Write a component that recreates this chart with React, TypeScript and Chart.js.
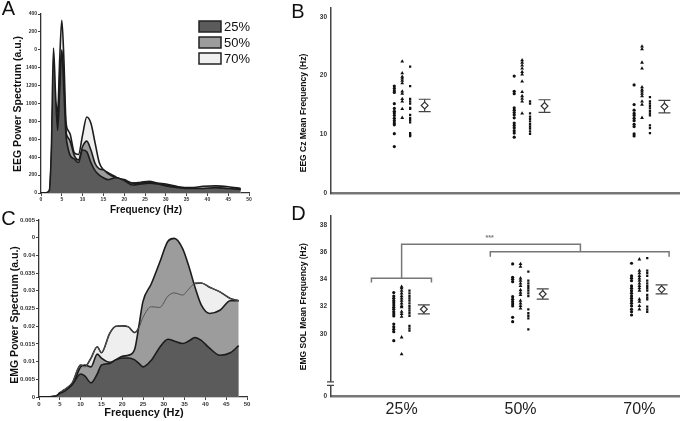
import { useEffect, useRef } from "react";
import { Chart, registerables } from "chart.js";
Chart.register(...registerables);

const FONT = "'Liberation Sans', Arial, sans-serif";

// ---------- Panel A : EEG power spectrum ----------
const FREQ_A = [0, 1, 2, 2.5, 3, 3.5, 4, 4.5, 5, 5.5, 6, 6.5, 7, 8, 9, 10, 11, 12, 13, 14, 15, 16, 18, 20, 22, 24, 26, 28, 30, 33, 36, 39, 42, 45, 48];
const EEG_25 = [0, 0, 30, 500, 1620, 1100, 700, 1150, 1600, 1150, 650, 500, 420, 380, 340, 480, 460, 340, 250, 200, 170, 150, 170, 140, 90, 100, 110, 100, 80, 60, 50, 50, 60, 50, 40];
const EEG_50 = [0, 0, 20, 400, 1150, 1000, 800, 1300, 1580, 1250, 700, 620, 580, 420, 370, 520, 580, 480, 330, 270, 260, 220, 170, 150, 110, 110, 120, 100, 90, 60, 50, 50, 50, 45, 40];
const EEG_70 = [0, 0, 10, 250, 900, 1000, 900, 1500, 1930, 1500, 800, 700, 660, 450, 430, 650, 850, 780, 560, 340, 260, 230, 180, 130, 110, 120, 130, 110, 100, 70, 60, 75, 80, 70, 50];
const EEG_TICK_LABELS = ["0", "200", "400", "600", "800", "1000", "1200", "1400", "0", "200", "400"];

// ---------- Panel C : EMG power spectrum ----------
const FREQ_C = [0, 4, 5, 6, 8, 10, 11, 12.5, 14, 15, 17, 18.5, 20, 21.5, 23, 24, 25, 27, 29, 31, 32.5, 34.5, 36, 37.5, 39, 41, 43.5, 46, 48];
const EMG_25 = [0, 0.0003, 0.001, 0.0015, 0.0035, 0.0065, 0.006, 0.004, 0.0065, 0.009, 0.0095, 0.0105, 0.011, 0.011, 0.0105, 0.0095, 0.0085, 0.0104, 0.014, 0.0163, 0.0158, 0.0151, 0.0158, 0.0168, 0.016, 0.0138, 0.0118, 0.0125, 0.0145];
const EMG_50 = [0, 0, 0.0002, 0.0008, 0.003, 0.0085, 0.009, 0.0085, 0.0121, 0.011, 0.0098, 0.0105, 0.0115, 0.0118, 0.0135, 0.02, 0.027, 0.032, 0.038, 0.044, 0.0448, 0.042, 0.037, 0.031, 0.026, 0.0236, 0.0245, 0.0272, 0.0272];
const EMG_70 = [0, 0.0002, 0.0012, 0.002, 0.004, 0.009, 0.0085, 0.011, 0.0142, 0.0125, 0.018, 0.02, 0.0201, 0.0198, 0.0182, 0.0195, 0.0225, 0.0255, 0.0253, 0.0285, 0.0294, 0.0288, 0.0305, 0.0321, 0.0322, 0.031, 0.0297, 0.0278, 0.0272];
const EMG_TICK_LABELS = ["0", "0.005", "0.01", "0.015", "0.02", "0.025", "0.03", "0.035", "0.04", "0", "0.005"];

const SERIES = ["25%", "50%", "70%"];
const FILLS = ["#5b5b5b", "#9c9c9c", "#efefef"];

// ---------- Panel B : EEG Cz mean frequency ----------
const B_CIRC_25 = [18.2, 17.8, 17.4, 17.1, 15.2, 14.4, 13.9, 13.6, 13.2, 12.7, 12.3, 11.9, 11.6, 10.1, 7.9];
const B_TRI_25 = [22.4, 20.4, 19.8, 19.5, 19.1, 18.7, 17.3, 16.9, 16.0, 15.6, 14.3, 12.8];
const B_SQR_25 = [21.5, 18.2, 16.0, 15.6, 15.2, 14.5, 14.3, 13.3, 12.8, 12.4, 12.0, 10.2, 9.9, 9.7];
const B_CIRC_50 = [19.9, 17.3, 16.9, 14.5, 14.1, 13.7, 13.3, 12.8, 11.9, 11.5, 11.1, 10.6, 10.2, 9.5];
const B_TRI_50 = [22.6, 22.2, 21.7, 21.2, 20.6, 20.2, 19.0, 17.2, 16.5, 16.05, 15.6, 13.55];
const B_SQR_50 = [15.6, 15.2, 13.55, 13.0, 12.6, 12.2, 11.7, 11.3, 10.95, 10.5, 10.05];
const B_CIRC_70 = [18.4, 15.05, 14.1, 13.55, 13.2, 12.7, 12.3, 11.7, 11.3, 10.05, 9.7];
const B_TRI_70 = [24.95, 24.5, 22.2, 21.2, 18.0, 17.6, 17.3, 16.9, 16.5, 15.6, 15.05, 12.8];
const B_SQR_70 = [16.3, 15.6, 15.2, 14.8, 14.4, 13.95, 13.55, 13.2, 11.5, 11.05, 10.2];
const B_MEAN = [14.9, 14.8, 14.7];
const B_ERR = [1.05, 1.07, 1.05];
const B_TICKS = [0, 10, 20, 30];

// ---------- Panel D : EMG SOL mean frequency ----------
const D_CIRC_25 = [33.03, 32.78, 32.61, 32.44, 32.29, 32.12, 31.96, 31.81, 31.63, 31.47, 31.32, 30.73, 30.53, 30.34, 30.17, 29.51];
const D_TRI_25 = [33.47, 33.35, 33.17, 32.98, 32.78, 32.61, 32.44, 32.25, 32.05, 31.96, 31.63, 31.47, 31.27, 29.76, 28.53];
const D_SQR_25 = [33.17, 32.98, 32.78, 32.61, 32.44, 32.25, 32.05, 31.88, 31.71, 31.52, 31.32, 30.59, 30.42, 30.24];
const D_CIRC_50 = [35.13, 34.15, 34.01, 33.83, 32.73, 32.54, 32.37, 32.2, 32.05, 31.22, 30.9];
const D_TRI_50 = [35.13, 34.93, 34.08, 33.9, 33.71, 33.52, 33.22, 33.03, 32.86, 32.44, 32.25, 32.05, 31.88];
const D_SQR_50 = [34.56, 33.9, 33.71, 33.52, 33.35, 33.17, 32.98, 32.78, 31.81, 31.52, 31.32, 31.15, 30.34];
const D_CIRC_70 = [35.18, 34.25, 34.08, 33.9, 33.52, 33.35, 33.17, 32.98, 32.78, 32.61, 32.44, 32.25, 32.05, 31.81, 31.63, 31.39];
const D_TRI_70 = [35.47, 34.64, 34.45, 34.25, 34.08, 33.9, 33.71, 33.52, 33.35, 33.17, 32.54, 32.37, 32.05, 31.81];
const D_SQR_70 = [35.55, 34.64, 34.45, 34.25, 33.9, 33.71, 33.52, 33.35, 33.17, 32.86, 32.69, 32.54, 32.0, 31.81, 31.63];
const D_MEAN = [31.81, 32.93, 33.27];
const D_ERR = [0.33, 0.37, 0.33];
const D_MIN = 25.41;
const D_MAX = 38.64;
const D_TICKS = [D_MIN, 30, 32, 34, 36, 38];
const D_BREAK = [26.24, 26.5];
// significance brackets (x in category units, y in Hz)
const BRACKET_25 = [[0.746, 33.78], [0.746, 34.08], [1.251, 34.08], [1.251, 33.78]];
const BRACKET_TOP = [[1.0, 34.08], [1.0, 36.57], [2.504, 36.57], [2.504, 36.03]];
const BRACKET_50_70 = [[1.746, 35.66], [1.746, 36.03], [3.25, 36.03], [3.25, 35.66]];
const STARS = { text: "***", x: 1.74, y: 37.03 };

const CATEGORIES = ["25%", "50%", "70%"];
const COL_OFFSETS = [-0.066, 0, 0.066];
const MEAN_OFFSET = 0.187;

type TextItem = { text: string; x: number; y: number; size: number; bold?: boolean; rotate?: boolean; color?: string };

const textPlugin = (items: TextItem[]) => ({
  id: "panelText",
  afterDraw(chart: any) {
    const ctx = chart.ctx;
    items.forEach((it) => {
      ctx.save();
      ctx.font = `${it.bold ? "bold " : ""}${it.size}px ${FONT}`;
      ctx.fillStyle = it.color ?? "#111";
      ctx.textAlign = "center";
      ctx.textBaseline = "middle";
      ctx.translate(it.x, it.y);
      if (it.rotate) ctx.rotate(-Math.PI / 2);
      ctx.fillText(it.text, 0, 0);
      ctx.restore();
    });
  },
});

const legendPlugin = {
  id: "boxLegend",
  afterDraw(chart: any) {
    const ctx = chart.ctx;
    const tops = [21, 37, 53];
    SERIES.forEach((s, i) => {
      ctx.save();
      ctx.fillStyle = FILLS[i];
      ctx.strokeStyle = "#222";
      ctx.lineWidth = 1.5;
      ctx.fillRect(199, tops[i], 22, 11);
      ctx.strokeRect(199, tops[i], 22, 11);
      ctx.fillStyle = "#111";
      ctx.font = `13px ${FONT}`;
      ctx.textAlign = "left";
      ctx.textBaseline = "middle";
      ctx.fillText(s, 224, tops[i] + 6);
      ctx.restore();
    });
  },
};

const meanBarPlugin = (means: number[], errs: number[]) => ({
  id: "meanBars",
  beforeDatasetsDraw(chart: any) {
    const { ctx, scales } = chart;
    const x = scales.x, y = scales.y;
    ctx.save();
    ctx.strokeStyle = "#444";
    ctx.lineWidth = 1.2;
    means.forEach((m, i) => {
      const px = x.getPixelForValue(i + 1 + MEAN_OFFSET);
      const top = y.getPixelForValue(m + errs[i]);
      const bot = y.getPixelForValue(m - errs[i]);
      ctx.beginPath();
      ctx.moveTo(px, top); ctx.lineTo(px, bot);
      ctx.moveTo(px - 6, top); ctx.lineTo(px + 6, top);
      ctx.moveTo(px - 6, bot); ctx.lineTo(px + 6, bot);
      ctx.stroke();
    });
    ctx.restore();
  },
});

const breakPlugin = {
  id: "axisBreak",
  afterDraw(chart: any) {
    const { ctx, scales, chartArea } = chart;
    const y1 = scales.y.getPixelForValue(D_BREAK[1]);
    const y2 = scales.y.getPixelForValue(D_BREAK[0]);
    const x = chartArea.left;
    ctx.save();
    ctx.fillStyle = "#fff";
    ctx.fillRect(x - 2, y1, 4, y2 - y1);
    ctx.strokeStyle = "#444";
    ctx.lineWidth = 1.2;
    ctx.beginPath();
    ctx.moveTo(x - 4, y1); ctx.lineTo(x + 3, y1);
    ctx.moveTo(x - 4, y2); ctx.lineTo(x + 3, y2);
    ctx.stroke();
    ctx.restore();
  },
};

const starsPlugin = {
  id: "stars",
  afterDatasetsDraw(chart: any) {
    const { ctx, scales } = chart;
    ctx.save();
    ctx.font = `bold 7px ${FONT}`;
    ctx.fillStyle = "#777";
    ctx.textAlign = "center";
    ctx.textBaseline = "middle";
    ctx.fillText(STARS.text, scales.x.getPixelForValue(STARS.x), scales.y.getPixelForValue(STARS.y));
    ctx.restore();
  },
};

function spectrumDatasets(freq: number[], series: number[][], thinLine: boolean) {
  const ds: any[] = series.map((vals, i) => ({
    label: SERIES[i],
    data: freq.map((f, j) => ({ x: f, y: vals[j] })),
    backgroundColor: FILLS[i],
    borderColor: "#1c1c1c",
    borderWidth: 1.6,
    fill: "origin",
    pointRadius: 0,
    cubicInterpolationMode: "monotone",
    order: i,
  }));
  if (thinLine) {
    ds.push({
      label: "70% line",
      data: freq.map((f, j) => ({ x: f, y: series[2][j] })),
      borderColor: "#555",
      borderWidth: 1,
      fill: false,
      pointRadius: 0,
      cubicInterpolationMode: "monotone",
      order: 0.5,
    });
  }
  return ds;
}

function axisStyle(size: number) {
  return {
    font: { size, weight: "bold" as const, family: FONT },
    color: "#333",
    autoSkip: false,
    maxRotation: 0,
  };
}

function spectrumConfig(opts: {
  freq: number[]; series: number[][]; thinLine: boolean; yMax: number; step: number; labels: string[];
  tickSize: number; padTop: number; padRight: number; yWidth: number; xHeight: number; texts: TextItem[]; legend: boolean;
}): any {
  const plugins: any[] = [textPlugin(opts.texts)];
  if (opts.legend) plugins.push(legendPlugin);
  return {
    type: "line",
    data: { datasets: spectrumDatasets(opts.freq, opts.series, opts.thinLine) },
    options: {
      animation: false,
      responsive: false,
      layout: { padding: { left: 0, top: opts.padTop, right: opts.padRight, bottom: 0 } },
      plugins: { legend: { display: false }, tooltip: { enabled: false } },
      scales: {
        x: {
          type: "linear", min: 0, max: 50,
          afterFit: (s: any) => { s.height = opts.xHeight; },
          ticks: { ...axisStyle(opts.tickSize), stepSize: 5, padding: 1 },
          grid: { drawOnChartArea: false, drawTicks: true, tickLength: 3, color: "#444" },
          border: { color: "#333", width: 1.3 },
        },
        y: {
          type: "linear", min: 0, max: opts.yMax,
          afterFit: (s: any) => { s.width = opts.yWidth; },
          ticks: { ...axisStyle(opts.tickSize), stepSize: opts.step, padding: 1, callback: (_v: any, i: number) => opts.labels[i] },
          grid: { drawOnChartArea: false, drawTicks: true, tickLength: 3, color: "#444" },
          border: { color: "#333", width: 1.3 },
        },
      },
    },
    plugins,
  };
}

function markers(groups: number[][][], means: number[]) {
  const styles = ["circle", "triangle", "rect"];
  const radii = [1.6, 2.2, 1.6];
  const ds: any[] = [];
  groups.forEach((cols, g) => {
    cols.forEach((vals, c) => {
      ds.push({
        label: `${CATEGORIES[g]}-${c}`,
        data: vals.map((v) => ({ x: g + 1 + COL_OFFSETS[c], y: v })),
        pointStyle: styles[c],
        pointRadius: radii[c],
        backgroundColor: "#111",
        borderColor: "#111",
        borderWidth: 0,
        order: 2,
      });
    });
  });
  ds.push({
    label: "mean",
    data: means.map((m, i) => ({ x: i + 1 + MEAN_OFFSET, y: m })),
    pointStyle: "rectRot",
    pointRadius: 3.4,
    backgroundColor: "#fff",
    borderColor: "#333",
    borderWidth: 1.2,
    order: 1,
  });
  return ds;
}

function bracketDataset(pts: number[][]) {
  return {
    label: "bracket",
    data: pts.map(([x, y]) => ({ x, y })),
    showLine: true,
    pointRadius: 0,
    borderColor: "#777",
    borderWidth: 1.5,
    fill: false,
    tension: 0,
    order: 3,
  };
}

function configB(): any {
  return {
    type: "scatter",
    data: {
      datasets: markers(
        [
          [B_CIRC_25, B_TRI_25, B_SQR_25],
          [B_CIRC_50, B_TRI_50, B_SQR_50],
          [B_CIRC_70, B_TRI_70, B_SQR_70],
        ],
        B_MEAN
      ),
    },
    options: {
      animation: false,
      responsive: false,
      layout: { padding: { left: 0, top: 4, right: 0, bottom: 0 } },
      plugins: { legend: { display: false }, tooltip: { enabled: false } },
      scales: {
        x: {
          type: "linear", min: 0.406, max: 3.315,
          afterFit: (s: any) => { s.height = 12; },
          ticks: { display: false },
          grid: { drawOnChartArea: false, drawTicks: false },
          border: { color: "#777", width: 2.5 },
        },
        y: {
          type: "linear", min: 0, max: 31.5,
          afterFit: (s: any) => { s.width = 61; },
          afterBuildTicks: (s: any) => { s.ticks = B_TICKS.map((v) => ({ value: v })); },
          ticks: { ...axisStyle(6.5), padding: 4 },
          grid: { drawOnChartArea: false, drawTicks: false },
          border: { color: "#444", width: 1.5 },
        },
      },
    },
    plugins: [
      meanBarPlugin(B_MEAN, B_ERR),
      textPlugin([
        { text: "B", x: 28, y: 12, size: 20 },
        { text: "EEG Cz Mean Frequency (Hz)", x: 34, y: 113, size: 8.5, bold: true, rotate: true },
      ]),
    ],
  };
}

function configD(): any {
  const ds = markers(
    [
      [D_CIRC_25, D_TRI_25, D_SQR_25],
      [D_CIRC_50, D_TRI_50, D_SQR_50],
      [D_CIRC_70, D_TRI_70, D_SQR_70],
    ],
    D_MEAN
  );
  ds.push(bracketDataset(BRACKET_25), bracketDataset(BRACKET_TOP), bracketDataset(BRACKET_50_70));
  return {
    type: "scatter",
    data: { datasets: ds },
    options: {
      animation: false,
      responsive: false,
      layout: { padding: { left: 0, top: 11, right: 0, bottom: 0 } },
      plugins: { legend: { display: false }, tooltip: { enabled: false } },
      scales: {
        x: {
          type: "linear", min: 0.406, max: 3.34,
          afterFit: (s: any) => { s.height = 24.3; },
          afterBuildTicks: (s: any) => { s.ticks = [1, 2, 3].map((v) => ({ value: v })); },
          ticks: {
            font: { size: 16, family: FONT },
            color: "#222",
            padding: 3,
            autoSkip: false,
            maxRotation: 0,
            callback: (_v: any, i: number) => CATEGORIES[i],
          },
          grid: { drawOnChartArea: false, drawTicks: false },
          border: { color: "#777", width: 2.5 },
        },
        y: {
          type: "linear", min: D_MIN, max: D_MAX,
          afterFit: (s: any) => { s.width = 61; },
          afterBuildTicks: (s: any) => { s.ticks = D_TICKS.map((v) => ({ value: v })); },
          ticks: { ...axisStyle(6.5), padding: 4, callback: (v: number) => (v < 30 ? "0" : String(v)) },
          grid: { drawOnChartArea: false, drawTicks: false },
          border: { color: "#444", width: 1.5 },
        },
      },
    },
    plugins: [
      meanBarPlugin(D_MEAN, D_ERR),
      starsPlugin,
      breakPlugin,
      textPlugin([
        { text: "D", x: 28.5, y: 9.5, size: 20 },
        { text: "EMG SOL Mean Frequency (Hz)", x: 34, y: 101.7, size: 8.5, bold: true, rotate: true },
      ]),
    ],
  };
}

export default function App() {
  const aRef = useRef<HTMLCanvasElement>(null);
  const bRef = useRef<HTMLCanvasElement>(null);
  const cRef = useRef<HTMLCanvasElement>(null);
  const dRef = useRef<HTMLCanvasElement>(null);

  useEffect(() => {
    const charts = [
      new Chart(
        aRef.current!,
        spectrumConfig({
          freq: FREQ_A, series: [EEG_25, EEG_50, EEG_70], thinLine: false, yMax: 2000, step: 200,
          labels: EEG_TICK_LABELS, tickSize: 5, padTop: 14, padRight: 21, yWidth: 41, xHeight: 25,
          legend: true,
          texts: [
            { text: "A", x: 8.5, y: 9.5, size: 20 },
            { text: "EEG Power Spectrum (a.u.)", x: 18, y: 104, size: 10.5, bold: true, rotate: true },
            { text: "Frequency (Hz)", x: 146, y: 210.5, size: 10, bold: true },
          ],
        })
      ),
      new Chart(bRef.current!, configB()),
      new Chart(
        cRef.current!,
        spectrumConfig({
          freq: FREQ_C, series: [EMG_25, EMG_50, EMG_70], thinLine: true, yMax: 0.05, step: 0.005,
          labels: EMG_TICK_LABELS, tickSize: 6, padTop: 15, padRight: 23, yWidth: 39, xHeight: 24,
          legend: false,
          texts: [
            { text: "C", x: 8.5, y: 14, size: 20 },
            { text: "EMG Power Spectrum (a.u.)", x: 15.5, y: 110, size: 10.5, bold: true, rotate: true },
            { text: "Frequency (Hz)", x: 144, y: 208, size: 11, bold: true },
          ],
        })
      ),
      new Chart(dRef.current!, configD()),
    ];
    return () => charts.forEach((c) => c.destroy());
  }, []);

  const abs = (left: number, top: number): any => ({ position: "absolute", left, top, display: "block" });

  return (
    <div style={{ position: "absolute", left: 0, top: 0, width: 685, height: 421, background: "#fff", overflow: "hidden" }}>
      <canvas ref={aRef} width={270} height={218} style={abs(0, 0)} />
      <canvas ref={bRef} width={415} height={205} style={abs(270, 0)} />
      <canvas ref={cRef} width={270} height={216} style={abs(0, 205)} />
      <canvas ref={dRef} width={415} height={216} style={abs(270, 205)} />
    </div>
  );
}
